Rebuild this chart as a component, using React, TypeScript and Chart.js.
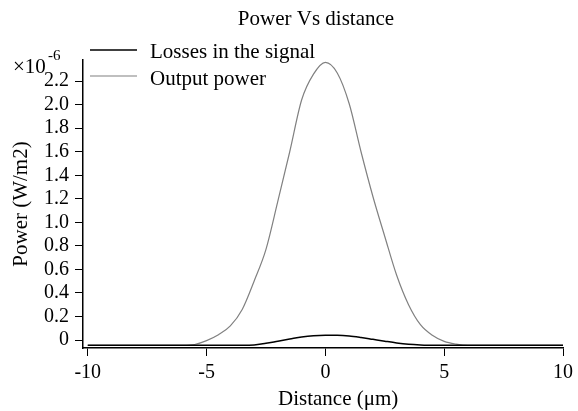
import React, { useEffect, useRef } from "react";
import { Chart, registerables } from "chart.js";

Chart.register(...registerables);

const distance = [
  -10, -9.5, -9, -8.5, -8, -7.5, -7, -6.5, -6, -5.5, -5, -4.5, -4, -3.5, -3, -2.5, -2, -1.5, -1, -0.5,
  0, 0.5, 1, 1.5, 2, 2.5, 3, 3.5, 4, 4.5, 5, 5.5, 6, 6.5, 7, 7.5, 8, 8.5, 9, 9.5, 10,
];

const lossesInSignal = [
  -0.045, -0.045, -0.045, -0.045, -0.045, -0.045, -0.045, -0.045, -0.045, -0.045, -0.045, -0.045, -0.045, -0.045,
  -0.043, -0.028, -0.01, 0.008, 0.026, 0.037, 0.04, 0.04, 0.035, 0.022, 0.006, -0.01, -0.025, -0.036, -0.042,
  -0.045, -0.045, -0.045, -0.045, -0.045, -0.045, -0.045, -0.045, -0.045, -0.045, -0.045, -0.045,
];

const outputPower = [
  -0.045, -0.045, -0.045, -0.045, -0.045, -0.045, -0.045, -0.045, -0.045, -0.038, -0.005, 0.045, 0.12, 0.26,
  0.5, 0.77, 1.18, 1.6, 2.04, 2.26, 2.36, 2.27, 2.01, 1.6, 1.22, 0.88, 0.55, 0.3, 0.13, 0.04, -0.012, -0.035,
  -0.045, -0.045, -0.045, -0.045, -0.045, -0.045, -0.045, -0.045, -0.045,
];

const xTicks = [-10, -5, 0, 5, 10];
const yTicks = [0, 0.2, 0.4, 0.6, 0.8, 1.0, 1.2, 1.4, 1.6, 1.8, 2.0, 2.2];

const chartTitle = "Power Vs distance";
const xTitle = "Distance (\u03bcm)";
const yTitle = "Power (W/m2)";
const seriesNames = ["Losses in the signal", "Output power"];
const seriesColors = ["#000000", "#808080"];

const SERIF = "'Liberation Serif', 'Times New Roman', serif";

const textPlugin = {
  id: "textPlugin",
  afterDraw(chart: any) {
    const ctx = chart.ctx as CanvasRenderingContext2D;
    const area = chart.chartArea;
    ctx.save();
    ctx.fillStyle = "#000";
    ctx.textBaseline = "alphabetic";
    // title
    ctx.font = `21px ${SERIF}`;
    ctx.textAlign = "center";
    ctx.fillText(chartTitle, 316, 25);
    // x title
    ctx.textAlign = "left";
    ctx.fillText(xTitle, 278, 405);
    // y title
    ctx.save();
    ctx.translate(27, (area.top + area.bottom) / 2);
    ctx.rotate(-Math.PI / 2);
    ctx.textAlign = "center";
    ctx.fillText(yTitle, 0, 0);
    ctx.restore();
    // exponent
    ctx.textAlign = "left";
    ctx.font = `21px ${SERIF}`;
    ctx.fillText("\u00d710", 13, 73);
    ctx.font = `15px ${SERIF}`;
    ctx.fillText("-6", 48, 60);
    // legend
    const ly = [50, 76];
    const lb = [58, 85];
    ctx.font = `21px ${SERIF}`;
    for (let i = 0; i < seriesNames.length; i++) {
      ctx.strokeStyle = seriesColors[i];
      ctx.lineWidth = i === 0 ? 1.5 : 1.2;
      ctx.beginPath();
      ctx.moveTo(90, ly[i]);
      ctx.lineTo(137, ly[i]);
      ctx.stroke();
      ctx.fillText(seriesNames[i], 150, lb[i]);
    }
    ctx.restore();
  },
};

export default function App() {
  const ref = useRef<HTMLCanvasElement | null>(null);
  useEffect(() => {
    document.body.style.margin = "0";
    const canvas = ref.current!;
    const chart = new Chart(canvas, {
      type: "line",
      data: {
        datasets: [
          {
            label: seriesNames[0],
            data: distance.map((x, i) => ({ x, y: lossesInSignal[i] })),
            borderColor: seriesColors[0],
            borderWidth: 1.5,
            pointRadius: 0,
            cubicInterpolationMode: "monotone",
            fill: false,
          },
          {
            label: seriesNames[1],
            data: distance.map((x, i) => ({ x, y: outputPower[i] })),
            borderColor: seriesColors[1],
            borderWidth: 1.2,
            pointRadius: 0,
            cubicInterpolationMode: "monotone",
            fill: false,
          },
        ],
      },
      options: {
        responsive: false,
        animation: false,
        devicePixelRatio: 1,
        layout: { padding: { left: 0, top: 60, right: 15, bottom: 0 } },
        plugins: { legend: { display: false }, title: { display: false }, tooltip: { enabled: false } },
        scales: {
          x: {
            type: "linear",
            min: -10.2,
            max: 10,
            afterBuildTicks: (s: any) => {
              s.ticks = xTicks.map((v) => ({ value: v }));
            },
            afterFit: (s: any) => {
              s.height = 63;
            },
            grid: { drawOnChartArea: false, drawTicks: true, tickLength: 8, color: "#000", lineWidth: 1 },
            border: { display: true, color: "#000", width: 1.5 },
            ticks: {
              color: "#000",
              font: { family: SERIF, size: 20 },
              padding: 5,
              maxRotation: 0,
              autoSkip: false,
              callback: (v: any) => String(v),
            },
          },
          y: {
            type: "linear",
            min: -0.068,
            max: 2.38,
            afterBuildTicks: (s: any) => {
              s.ticks = yTicks.map((v) => ({ value: v }));
            },
            afterFit: (s: any) => {
              s.width = 83;
            },
            grid: { drawOnChartArea: false, drawTicks: true, tickLength: 8, color: "#000", lineWidth: 1 },
            border: { display: true, color: "#000", width: 1.5 },
            ticks: {
              color: "#000",
              font: { family: SERIF, size: 20 },
              padding: 6,
              autoSkip: false,
              callback: (v: any) => (Math.abs(v) < 1e-9 ? "0" : Number(v).toFixed(1)),
            },
          },
        },
      },
      plugins: [textPlugin],
    } as any);
    return () => chart.destroy();
  }, []);
  return (
    <div style={{ position: "absolute", left: 0, top: 0, width: 578, height: 411, background: "#fff" }}>
      <canvas ref={ref} width={578} height={411} style={{ display: "block", width: 578, height: 411 }} />
    </div>
  );
}
